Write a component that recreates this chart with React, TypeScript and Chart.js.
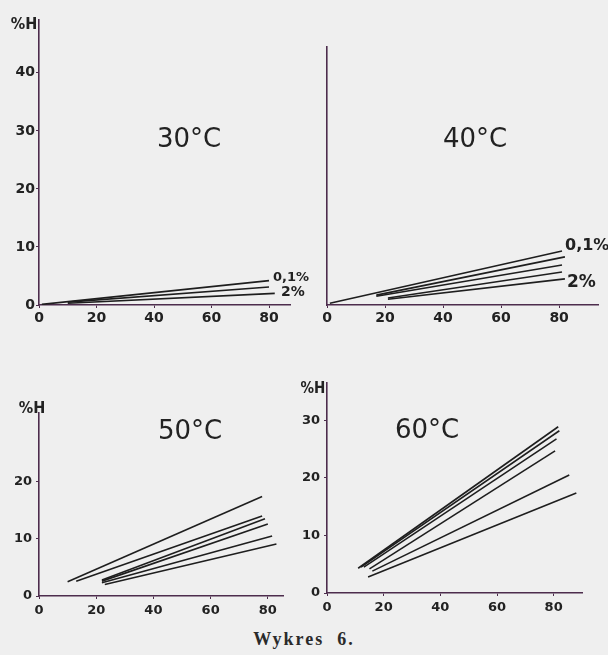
import React, { useEffect, useRef } from "react";
import { Chart, registerables } from "chart.js";
Chart.register(...registerables);

// ---- data (x = concentration axis, y = %H) ----
const xTickValues = [0, 20, 40, 60, 80];
const yTicks30 = [0, 10, 20, 30, 40];
const yTicks50 = [0, 10, 20];
const yTicks60 = [0, 10, 20, 30];

// each line: start point and end point
const starts30 = [[1, 0.1], [10, 0.5], [10, 0.3]];
const ends30 = [[80, 4.2], [80, 3.1], [82, 2.0]];

const starts40 = [[1, 0.3], [17, 1.7], [17, 1.5], [21, 1.2], [21, 1.0]];
const ends40 = [[81, 9.3], [82, 8.3], [81, 6.9], [81, 5.7], [82, 4.5]];

const starts50 = [[10, 2.5], [13, 2.6], [22, 2.8], [22, 2.6], [22, 2.3], [23, 2.0]];
const ends50 = [[78, 17.4], [78, 14.0], [79, 13.5], [80, 12.6], [81.5, 10.5], [83, 9.1]];

const starts60 = [[11, 4.3], [12, 4.5], [13, 4.5], [15, 4.2], [16, 3.8], [14.5, 2.8]];
const ends60 = [[81.6, 28.9], [82, 28.2], [81, 26.8], [80.5, 24.7], [85.5, 20.5], [88, 17.4]];

const AXIS = "#4d2d4d";
const INK = "#1e1e1e";
const BG = "#efefef";
const TICKFONT = "DejaVu Sans";

type TextItem = { text: string; x: number; y: number; font: string; align?: CanvasTextAlign };

type Panel = {
  left: number; top: number; w: number; h: number;
  area: { l: number; t: number; r: number; b: number };
  xMax: number; yMax: number;
  yTicks: number[] | null;
  starts: number[][]; ends: number[][];
  tickSize: number; yPad: number; xPad: number;
  texts: TextItem[];
};

const panels: Panel[] = [
  {
    left: 0, top: 0, w: 312, h: 335,
    area: { l: 39, t: 20, r: 290, b: 305 },
    xMax: 87.3, yMax: 49.1, yTicks: yTicks30,
    starts: starts30, ends: ends30, tickSize: 14, yPad: 1, xPad: 2,
    texts: [
      { text: "30°C", x: 189, y: 140, font: "26px 'DejaVu Sans'" },
      { text: "%H", x: 24, y: 25, font: "bold 16px 'DejaVu Sans Condensed', 'DejaVu Sans'" },
      { text: "0,1%", x: 273, y: 278, font: "bold 13px 'DejaVu Sans'", align: "left" },
      { text: "2%", x: 281, y: 292, font: "bold 14px 'DejaVu Sans'", align: "left" },
    ],
  },
  {
    left: 300, top: 0, w: 308, h: 335,
    area: { l: 27, t: 47, r: 298, b: 305 },
    xMax: 93.4, yMax: 44.5, yTicks: null,
    starts: starts40, ends: ends40, tickSize: 14, yPad: 1, xPad: 2,
    texts: [
      { text: "40°C", x: 475, y: 140, font: "26px 'DejaVu Sans'" },
      { text: "0,1%", x: 565, y: 246, font: "bold 16px 'DejaVu Sans'", align: "left" },
      { text: "2%", x: 567, y: 283, font: "bold 17px 'DejaVu Sans'", align: "left" },
    ],
  },
  {
    left: 0, top: 370, w: 300, h: 255,
    area: { l: 39, t: 43, r: 283, b: 226 },
    xMax: 85.3, yMax: 32, yTicks: yTicks50,
    starts: starts50, ends: ends50, tickSize: 13, yPad: 4, xPad: 4,
    texts: [
      { text: "50°C", x: 190, y: 432, font: "26px 'DejaVu Sans'" },
      { text: "%H", x: 32, y: 409, font: "bold 16px 'DejaVu Sans Condensed', 'DejaVu Sans'" },
    ],
  },
  {
    left: 290, top: 370, w: 318, h: 255,
    area: { l: 37, t: 13, r: 292, b: 223 },
    xMax: 90, yMax: 36.5, yTicks: yTicks60,
    starts: starts60, ends: ends60, tickSize: 13, yPad: 4, xPad: 4,
    texts: [
      { text: "60°C", x: 427, y: 431, font: "26px 'DejaVu Sans'" },
      { text: "%H", x: 313, y: 389, font: "bold 15px 'DejaVu Sans Condensed', 'DejaVu Sans'" },
    ],
  },
];

const textPlugin = {
  id: "panelText",
  afterDraw(chart: any, _args: any, opts: any) {
    const ctx = chart.ctx as CanvasRenderingContext2D;
    for (const t of opts.items as TextItem[]) {
      ctx.save();
      ctx.font = t.font;
      ctx.fillStyle = "#222";
      ctx.textAlign = t.align || "center";
      ctx.textBaseline = "middle";
      ctx.fillText(t.text, t.x - opts.offX, t.y - opts.offY);
      ctx.restore();
    }
  },
};

function PanelChart({ p }: { p: Panel }) {
  const ref = useRef<HTMLCanvasElement | null>(null);
  useEffect(() => {
    if (!ref.current) return;
    const a = p.area;
    const datasets = p.starts.map((s, i) => ({
      data: [{ x: s[0], y: s[1] }, { x: p.ends[i][0], y: p.ends[i][1] }],
      borderColor: INK,
      borderWidth: 1.6,
      pointRadius: 0,
      fill: false,
      tension: 0,
    }));
    const chart = new Chart(ref.current, {
      type: "line",
      data: { datasets },
      plugins: [textPlugin],
      options: {
        animation: false,
        responsive: false,
        devicePixelRatio: 1,
        layout: { padding: { left: 0, top: a.t, right: p.w - a.r, bottom: 0 } },
        plugins: {
          legend: { display: false },
          tooltip: { enabled: false },
          panelText: { items: p.texts, offX: p.left, offY: p.top },
        } as any,
        scales: {
          x: {
            type: "linear",
            min: 0,
            max: p.xMax,
            afterBuildTicks: (s: any) => { s.ticks = xTickValues.map((v) => ({ value: v })); },
            afterFit: (s: any) => { s.height = p.h - a.b; },
            ticks: {
              autoSkip: false, maxRotation: 0, padding: p.xPad, color: "#222",
              font: { family: TICKFONT, weight: "bold", size: p.tickSize },
            },
            grid: { drawOnChartArea: false, drawTicks: true, tickLength: 3, color: AXIS, lineWidth: 1 },
            border: { display: true, color: AXIS, width: 1.6 },
          },
          y: {
            type: "linear",
            min: 0,
            max: p.yMax,
            afterBuildTicks: (s: any) => { s.ticks = (p.yTicks || []).map((v) => ({ value: v })); },
            afterFit: (s: any) => { s.width = a.l; },
            ticks: {
              display: !!p.yTicks, padding: p.yPad, color: "#222",
              font: { family: TICKFONT, weight: "bold", size: p.tickSize },
            },
            grid: { display: !!p.yTicks, drawOnChartArea: false, drawTicks: true, tickLength: 3, color: AXIS, lineWidth: 1 },
            border: { display: true, color: AXIS, width: 1.6 },
          },
        },
      } as any,
    });
    return () => chart.destroy();
  }, [p]);
  return (
    <canvas
      ref={ref}
      width={p.w}
      height={p.h}
      style={{ position: "absolute", left: p.left, top: p.top, width: p.w, height: p.h }}
    />
  );
}

export default function App() {
  return (
    <div style={{ position: "absolute", left: 0, top: 0, width: 608, height: 655, background: BG, overflow: "hidden" }}>
      {panels.map((p, i) => (
        <PanelChart key={i} p={p} />
      ))}
      <div
        style={{
          position: "absolute", left: 0, width: 608, top: 629, textAlign: "center",
          fontFamily: "'Liberation Serif', serif", fontSize: 18, fontWeight: "bold", color: "#2a2a2a",
          letterSpacing: 2, whiteSpace: "pre",
        }}
      >
        {"Wykres  6."}
      </div>
    </div>
  );
}
